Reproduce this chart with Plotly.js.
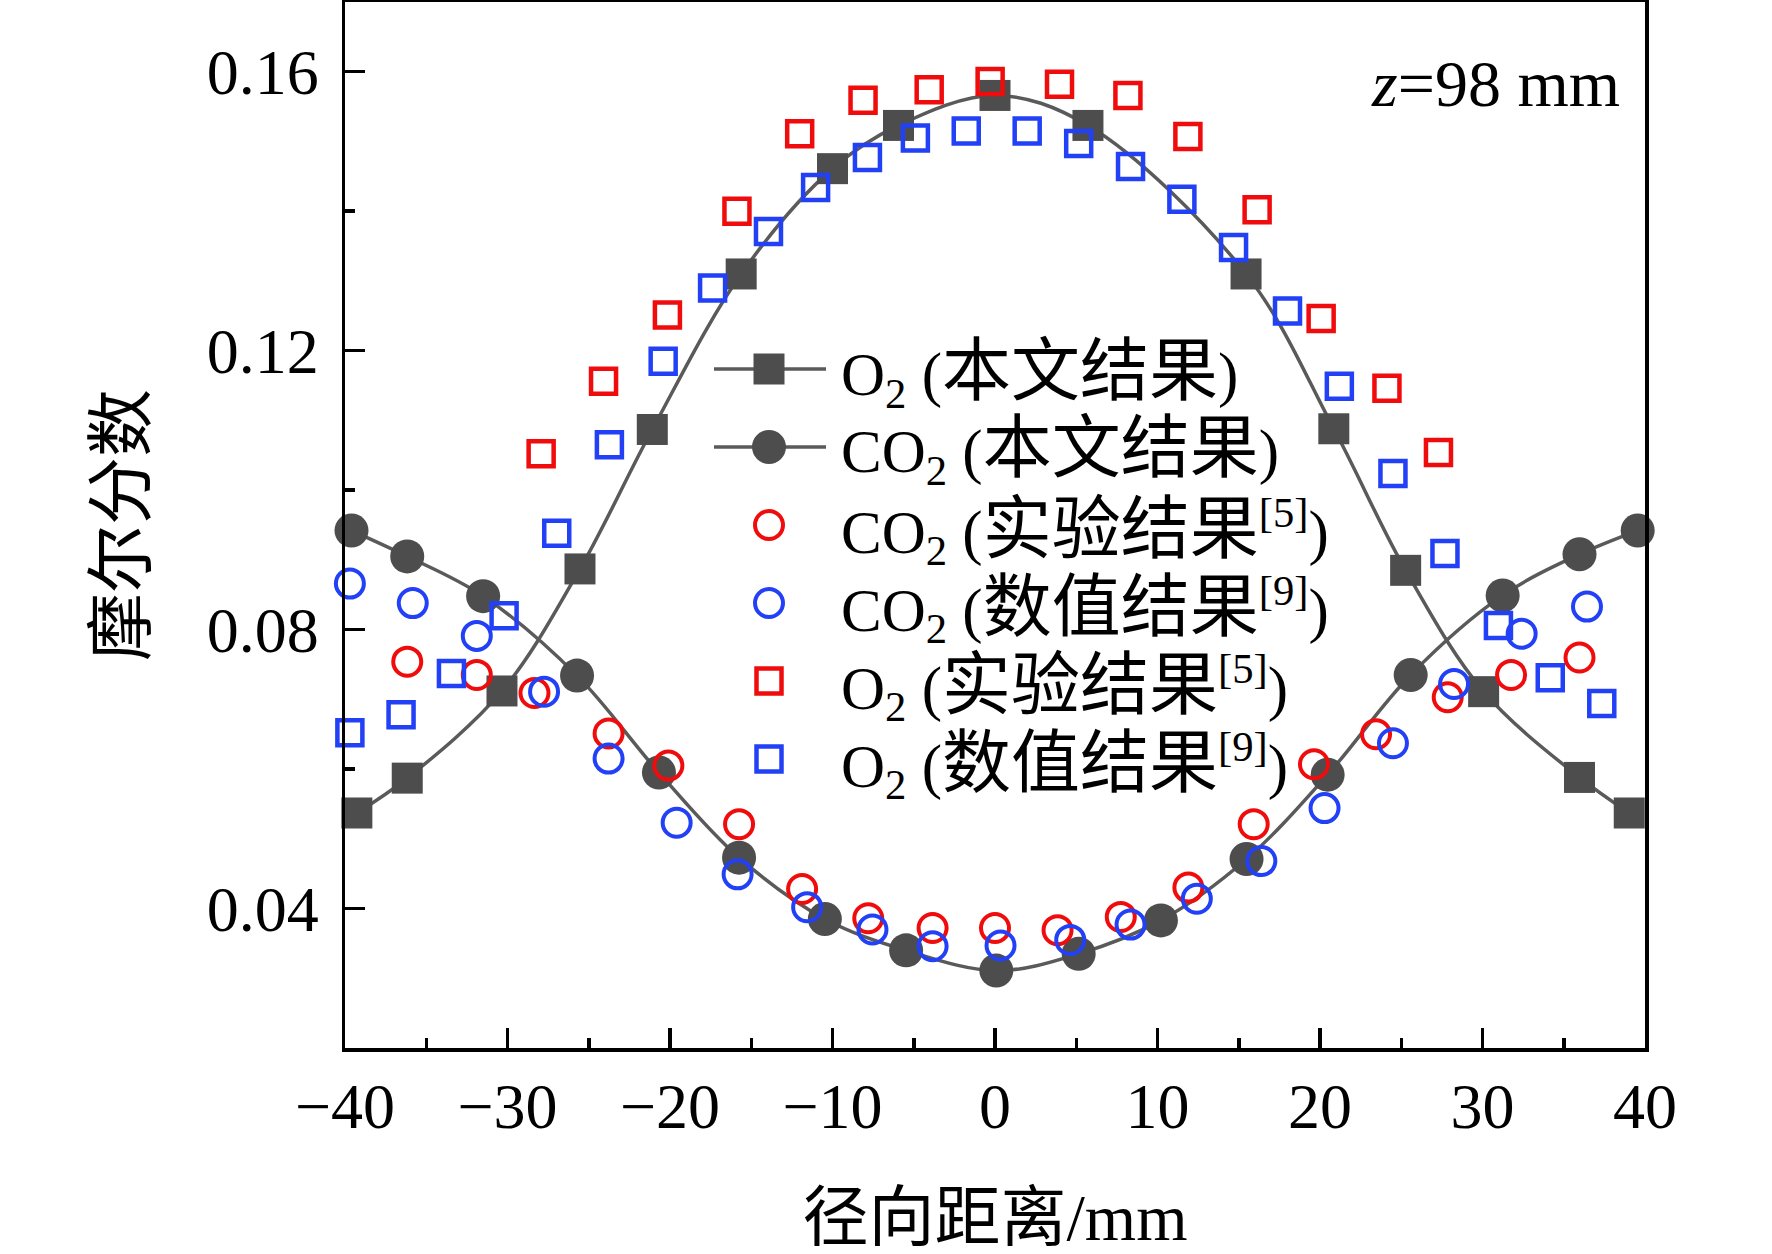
<!DOCTYPE html>
<html>
<head>
<meta charset="utf-8">
<script src="https://cdn.plot.ly/plotly-3.0.1.min.js"></script>
<style>html,body{margin:0;padding:0;background:#fff;}#chart{width:1772px;height:1254px;}</style>
</head>
<body>
<div id="chart"></div>
<script>
// ---- data ----
const o2SimX = [-39.27, -36.17, -30.34, -25.54, -21.09, -15.62, -10.0, -5.94, 0.0, 5.72, 15.45, 20.85, 25.27, 30.07, 35.97, 39.03];
const o2SimY = [0.0537, 0.0587, 0.0712, 0.0887, 0.1087, 0.1310, 0.1461, 0.1523, 0.1566, 0.1523, 0.1310, 0.1088, 0.0885, 0.0711, 0.0588, 0.0537];

const co2SimX = [-39.6, -36.17, -31.5, -25.72, -20.68, -15.75, -10.47, -5.47, 0.08, 5.15, 10.21, 15.48, 20.47, 25.58, 31.24, 35.97, 39.55];
const co2SimY = [0.0942, 0.0905, 0.0848, 0.0734, 0.0595, 0.0473, 0.0385, 0.0340, 0.0311, 0.0335, 0.0383, 0.0471, 0.0592, 0.0735, 0.0849, 0.0908, 0.0942];

const co2ExpX = [-36.17, -31.89, -28.34, -23.78, -20.1, -15.75, -11.87, -7.80, -3.84, 0.0, 3.85, 7.74, 11.9, 15.92, 19.63, 23.45, 27.86, 31.76, 35.97];
const co2ExpY = [0.0754, 0.0735, 0.0709, 0.0651, 0.0605, 0.0521, 0.0428, 0.0386, 0.0372, 0.0372, 0.0369, 0.0388, 0.0430, 0.0521, 0.0607, 0.0650, 0.0703, 0.0735, 0.0760];

const co2NumX = [-39.7, -35.83, -31.89, -27.75, -23.78, -19.59, -15.84, -11.56, -7.54, -3.84, 0.34, 4.63, 8.34, 12.42, 16.39, 20.28, 24.49, 28.25, 32.41, 36.43];
const co2NumY = [0.0866, 0.0838, 0.0791, 0.0711, 0.0615, 0.0523, 0.0449, 0.0402, 0.0370, 0.0346, 0.0347, 0.0355, 0.0377, 0.0414, 0.0468, 0.0544, 0.0637, 0.0722, 0.0794, 0.0833];

const o2ExpX = [-27.93, -24.09, -20.16, -15.88, -12.02, -8.12, -4.05, -0.3, 3.97, 8.18, 11.87, 16.13, 20.07, 24.12, 27.29];
const o2ExpY = [0.1052, 0.1156, 0.1251, 0.1400, 0.1511, 0.1559, 0.1574, 0.1586, 0.1582, 0.1566, 0.1507, 0.1402, 0.1246, 0.1146, 0.1054];

const o2NumX = [-39.7, -36.55, -33.45, -30.21, -26.97, -23.73, -20.42, -17.38, -13.94, -11.04, -7.85, -4.90, -1.77, 1.98, 5.15, 8.34, 11.5, 14.68, 18.0, 21.19, 24.49, 27.69, 30.98, 34.17, 37.34];
const o2NumY = [0.0652, 0.0678, 0.0737, 0.0820, 0.0938, 0.1065, 0.1185, 0.1290, 0.1371, 0.1434, 0.1477, 0.1505, 0.1515, 0.1515, 0.1497, 0.1464, 0.1417, 0.1348, 0.1257, 0.1149, 0.1024, 0.0909, 0.0806, 0.0731, 0.0694];

const seriesNames = [
  'O<sub>2</sub> (本文结果)',
  'CO<sub>2</sub> (本文结果)',
  'CO<sub>2</sub> (实验结果<sup>[5]</sup>)',
  'CO<sub>2</sub> (数值结果<sup>[9]</sup>)',
  'O<sub>2</sub> (实验结果<sup>[5]</sup>)',
  'O<sub>2</sub> (数值结果<sup>[9]</sup>)'
];
const xTitle = '径向距离/mm';
const yTitle = '摩尔分数';
const noteText = '<i>z</i>=98 mm';

// ---- styles ----
const FONT = "'Liberation Serif', 'Noto Sans CJK SC', serif";
const GRAY = '#4d4d4d';
const LINEGRAY = '#5a5a5a';
const RED = 'rgb(240,12,12)';
const BLUE = 'rgb(34,64,245)';
const cjkBig = (s, size) => s.replace(/([\u4e00-\u9fff]+)/g, '<span style="font-size:' + size + 'px">$1</span>');

const styles = [
  {sym: 'square', size: 31, color: GRAY, line: true},
  {sym: 'circle', size: 34, color: GRAY, line: true},
  {sym: 'circle-open', size: 28, color: RED, lw: 4},
  {sym: 'circle-open', size: 28, color: BLUE, lw: 4},
  {sym: 'square-open', size: 25, color: RED, lw: 4.5},
  {sym: 'square-open', size: 25, color: BLUE, lw: 4.5}
];
const xs = [o2SimX, co2SimX, co2ExpX, co2NumX, o2ExpX, o2NumX];
const ys = [o2SimY, co2SimY, co2ExpY, co2NumY, o2ExpY, o2NumY];

const traces = xs.map((x, i) => {
  const s = styles[i];
  const t = {
    x: x, y: ys[i], name: seriesNames[i], type: 'scatter', cliponaxis: false,
    mode: s.line ? 'lines+markers' : 'markers',
    marker: {symbol: s.sym, size: s.size, color: s.color, line: {width: s.lw || 0, color: s.color}},
    showlegend: false
  };
  if (s.line) t.line = {color: LINEGRAY, width: 3.5, shape: 'spline', smoothing: 1};
  return t;
});

// ---- page geometry ----
const W = 1772, H = 1254, ML = 345, MR = 127, MT = 2, MB = 206;
const PW = W - ML - MR, PH = H - MT - MB;
const px = v => (v - ML) / PW;
const py = v => (H - MB - v) / PH;

// ---- hand-built legend (larger symbols than Plotly's legend allows) ----
const shapes = [];
const annotations = [];
const legLineX0 = 714, legLineX1 = 826, legMarkX = 769, legTextX = 839, legY0 = 369, legDY = 78;
styles.forEach((s, i) => {
  const yy = legY0 + i * legDY;
  if (s.line) {
    shapes.push({type: 'line', xref: 'paper', yref: 'paper', x0: px(legLineX0), x1: px(legLineX1),
      y0: py(yy), y1: py(yy), line: {color: LINEGRAY, width: 3.5}, layer: 'above'});
  }
  const half = s.size / 2;
  const filled = !s.sym.endsWith('open');
  shapes.push({
    type: s.sym.startsWith('circle') ? 'circle' : 'rect',
    xref: 'paper', yref: 'paper', xsizemode: 'pixel', ysizemode: 'pixel',
    xanchor: px(legMarkX), yanchor: py(yy), x0: -half, x1: half, y0: -half, y1: half,
    fillcolor: filled ? s.color : 'rgba(0,0,0,0)',
    line: {color: s.color, width: filled ? 0 : s.lw}, layer: 'above'
  });
  annotations.push({
    xref: 'paper', yref: 'paper', x: px(legTextX), y: py(yy + 6), xanchor: 'left', yanchor: 'middle',
    text: cjkBig(seriesNames[i], 69), showarrow: false, font: {family: FONT, size: 61, color: '#000'}
  });
});
annotations.push({
  xref: 'paper', yref: 'paper', x: px(1622), y: py(84), xanchor: 'right', yanchor: 'middle',
  text: noteText, showarrow: false, font: {family: FONT, size: 66, color: '#000'}
});

const axisCommon = {
  showline: true, linecolor: '#000', linewidth: 3.5, mirror: true,
  showgrid: false, zeroline: false,
  ticks: 'inside', ticklen: 20, tickwidth: 3.5, tickcolor: '#000',
  tickfont: {family: FONT, size: 64, color: '#000'}
};

const layout = {
  width: W, height: H,
  margin: {l: ML, r: MR, t: MT, b: MB, pad: 0},
  paper_bgcolor: '#fff', plot_bgcolor: '#fff',
  showlegend: false,
  xaxis: Object.assign({}, axisCommon, {
    range: [-40, 40], tick0: 0, dtick: 10, ticklabelstandoff: 0,
    minor: {dtick: 5, ticks: 'inside', ticklen: 10, tickwidth: 3.5, tickcolor: '#000'},
    title: {text: xTitle, font: {family: FONT, size: 66, color: '#000'}, standoff: 56}
  }),
  yaxis: Object.assign({}, axisCommon, {
    range: [0.02, 0.17], tick0: 0, dtick: 0.04, tickformat: '.2f', ticklabelstandoff: 10,
    minor: {dtick: 0.02, ticks: 'inside', ticklen: 10, tickwidth: 3.5, tickcolor: '#000'},
    title: {text: yTitle, font: {family: FONT, size: 68, color: '#000'}, standoff: 40}
  }),
  shapes: shapes,
  annotations: annotations
};

Plotly.newPlot('chart', traces, layout, {staticPlot: true, displayModeBar: false});
</script>
</body>
</html>
